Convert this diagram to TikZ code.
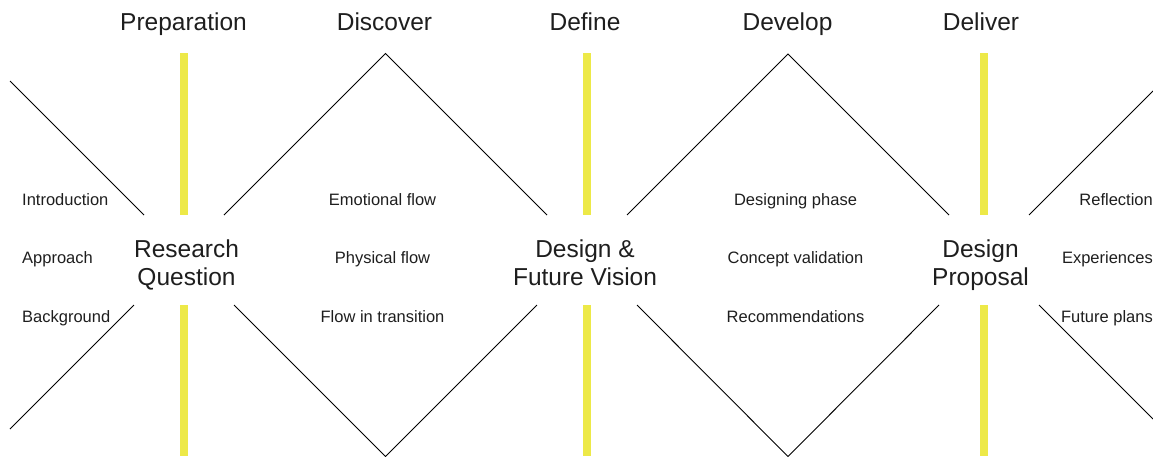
\documentclass[tikz,border=0pt]{standalone}
\usepackage{fontspec}
\setmainfont{Liberation Sans}
\definecolor{barYellow}{RGB}{237,233,72}
\definecolor{ink}{RGB}{30,30,30}
\begin{document}
\begin{tikzpicture}[x=1pt,y=-1pt,
  phase/.style={font=\fontsize{24.5}{28}\selectfont, text=ink, anchor=base, inner sep=0pt},
  milestone/.style={font=\fontsize{24.5}{28.5}\selectfont, text=ink, align=center, inner sep=0pt},
  item/.style={font=\fontsize{16.5}{20}\selectfont, text=ink, inner sep=0pt},
  stroke/.style={draw=black, line width=0.9pt, line join=miter},
  gate/.style={draw=none, fill=barYellow}]
\useasboundingbox (0,0) rectangle (1153,456);

% phase headings
\node[phase] (prep) at (183.5,30) {Preparation};
\node[phase] (disc) at (384.5,30) {Discover};
\node[phase] (defi) at (585,30) {Define};
\node[phase] (deve) at (787.5,30) {Develop};
\node[phase] (deli) at (981,30) {Deliver};

% yellow gates between the phases
\foreach \x in {184,587,984}{
  \fill[barYellow] (\x-4,53) rectangle (\x+4,215);
  \fill[barYellow] (\x-4,305) rectangle (\x+4,456);
}

% milestones where the lines cross
\node[milestone] (rq) at (186.5,265) {Research\\Question};
\node[milestone] (fv) at (585,262.5) {Design \&\\Future Vision};
\node[milestone] (dp) at (980.5,265) {Design\\Proposal};

% diverging / converging lines (upper half)
\draw[stroke] (10,81) -- (144,215);
\draw[stroke] (224,215) -- (385.5,53.5) -- (547,215);
\draw[stroke] (627,215) -- (788,54) -- (949,215);
\draw[stroke] (1029,215) -- (1153,91);
% lower half
\draw[stroke] (134,305) -- (10,429);
\draw[stroke] (234,305) -- (385.5,456.5) -- (537,305);
\draw[stroke] (637,305) -- (788,456.5) -- (939,305);
\draw[stroke] (1039,305) -- (1153,419);

% topics of each phase
\node[item, anchor=base west] (i1) at (22,205) {Introduction};
\node[item, anchor=base west] (i2) at (22,263.5) {Approach};
\node[item, anchor=base west] (i3) at (22,322) {Background};

\node[item, anchor=base] (d1) at (382.5,205) {Emotional flow};
\node[item, anchor=base] (d2) at (382.5,263.5) {Physical flow};
\node[item, anchor=base] (d3) at (382.5,322) {Flow in transition};

\node[item, anchor=base] (v1) at (795.5,205) {Designing phase};
\node[item, anchor=base] (v2) at (795.5,263.5) {Concept validation};
\node[item, anchor=base] (v3) at (795.5,322) {Recommendations};

\node[item, anchor=base east] (r1) at (1153,205) {Reflection};
\node[item, anchor=base east] (r2) at (1153,263.5) {Experiences};
\node[item, anchor=base east] (r3) at (1153,322) {Future plans};
\end{tikzpicture}
\end{document}
